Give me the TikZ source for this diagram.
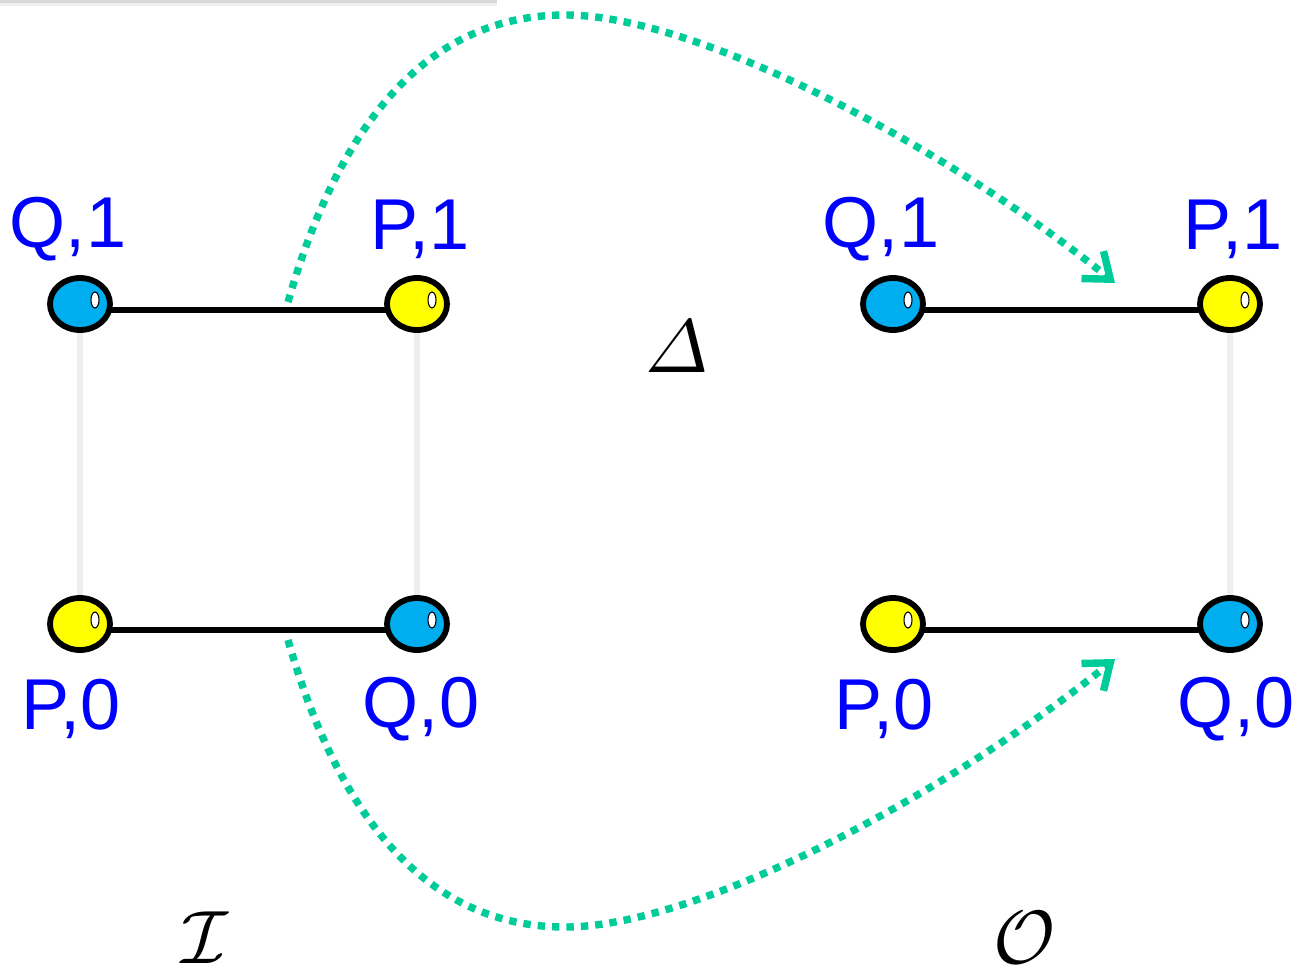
\documentclass[tikz,border=0pt]{standalone}
\usepackage{fontspec}
\setmainfont{Liberation Sans}
\usetikzlibrary{shapes.geometric,arrows.meta,backgrounds,calc}
\definecolor{ballblue}{RGB}{0,174,239}
\definecolor{ballyellow}{RGB}{255,255,0}
\definecolor{labblue}{RGB}{0,0,255}
\definecolor{arrowgreen}{RGB}{0,204,153}
\definecolor{vline}{RGB}{238,238,238}
\tikzset{
  ball/.style={ellipse, draw=black, line width=3.3pt, minimum width=1.2cm, minimum height=1.04cm, inner sep=0pt},
  blueball/.style={ball, fill=ballblue},
  yellowball/.style={ball, fill=ballyellow},
  lab/.style={text=labblue, font=\fontsize{41}{41}\selectfont, inner sep=0pt},
  mathlab/.style={font=\fontsize{10}{10}\selectfont, inner sep=0pt, scale=4.3},
  hedge/.style={draw=black, line width=3.6pt},
  vedge/.style={draw=vline, line width=3.8pt},
  dotarrow/.style={draw=arrowgreen, line width=4.2pt, dash pattern=on 4.2pt off 4pt,
    -{Straight Barb[length=13pt,width=20pt,line width=4.2pt]}},
}
\newcommand{\shine}[1]{\draw[fill=white, line width=0.6pt] ($(#1.center)+(15,-4)$) ellipse [x radius=4, y radius=8];}
\begin{document}
\begin{tikzpicture}[x=0.02cm,y=-0.02cm]
\useasboundingbox (0,0) rectangle (1305,980);
% faint top shadow
\fill[gray!30] (0,0) rectangle (497,3);
\fill[gray!12] (0,3) rectangle (497,6);

% balls
\node[blueball]   (q1l) at (80,304) {};
\node[yellowball] (p1l) at (417,304) {};
\node[yellowball] (p0l) at (80,624) {};
\node[blueball]   (q0l) at (417,624) {};
\node[blueball]   (q1r) at (893,304) {};
\node[yellowball] (p1r) at (1230,304) {};
\node[yellowball] (p0r) at (893,624) {};
\node[blueball]   (q0r) at (1230,624) {};
\foreach \n in {q1l,p1l,p0l,q0l,q1r,p1r,p0r,q0r} {\shine{\n}}

% edges behind balls
\begin{scope}[on background layer]
  \draw[vedge] (q1l.center) -- (p0l.center);
  \draw[vedge] (p1l.center) -- (q0l.center);
  \draw[vedge] (p1r.center) -- (q0r.center);
  \draw[hedge] ($(q1l.center)+(0,6)$) -- ($(p1l.center)+(0,6)$);
  \draw[hedge] ($(p0l.center)+(0,6)$) -- ($(q0l.center)+(0,6)$);
  \draw[hedge] ($(q1r.center)+(0,6)$) -- ($(p1r.center)+(0,6)$);
  \draw[hedge] ($(p0r.center)+(0,6)$) -- ($(q0r.center)+(0,6)$);
\end{scope}

% labels
\node[lab] (lq1l) at (68,229) {Q,1};
\node[lab] (lp1l) at (420,229) {P,1};
\node[lab] (lq1r) at (881,229) {Q,1};
\node[lab] (lp1r) at (1233,229) {P,1};
\node[lab] (lp0l) at (71,709) {P,0};
\node[lab] (lq0l) at (421,709) {Q,0};
\node[lab] (lp0r) at (884,709) {P,0};
\node[lab] (lq0r) at (1236,709) {Q,0};

\node[mathlab] (delta) at (677,347) {$\mathnormal{\Delta}$};
\node[mathlab] (calI) at (205,938) {$\mathcal{I}$};
\node[mathlab] (calO) at (1025,938) {$\mathcal{O}$};

% dotted arrows
\coordinate (s1) at (288,302);
\coordinate (m1) at (565,15);
\coordinate (e1) at (1115,283);
\coordinate (s2) at (288,640);
\coordinate (m2) at (565,927);
\coordinate (e2) at (1115,659);
\draw[dotarrow] (s1) .. controls (340,120) and (430,15) .. (m1)
  .. controls (700,15) and (950,150) .. (e1);
\draw[dotarrow] (s2) .. controls (340,822) and (430,927) .. (m2)
  .. controls (700,927) and (950,792) .. (e2);
\end{tikzpicture}
\end{document}
